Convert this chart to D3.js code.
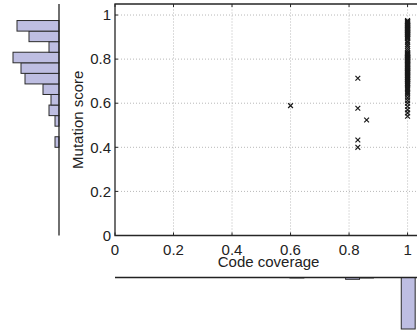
<!DOCTYPE html>
<html lang="en">
<head>
  <meta charset="utf-8">
  <title>Mutation score vs code coverage</title>
<style>
  body { margin: 0; background: #fff; }
  svg { display: block; font-family: "Liberation Sans", Arial, sans-serif; }
  .grid line { stroke: #b8b8b8; stroke-dasharray: 1,2; }
  .hist rect { fill: rgb(190,190,226); stroke: #2a2a2a; stroke-width: 1; }
  .lbl { fill: #222; font-size: 15px; }
</style>
<script src="https://d3js.org/d3.v7.min.js"></script>
</head>
<body>
<svg width="417" height="336"></svg>
<script>

// ticks
var tickValues = [0, 0.2, 0.4, 0.6, 0.8, 1];
var tickLabels = ["0", "0.2", "0.4", "0.6", "0.8", "1"];

// programs not fully covered
var partCoverage = [0.60, 0.83, 0.83, 0.86, 0.83, 0.83];
var partScore    = [0.589, 0.713, 0.577, 0.524, 0.433, 0.40];

// programs with full coverage (coverage = 1), mutation score of each
var fullScore = [
  0.975, 0.972, 0.970, 0.968, 0.966, 0.963, 0.960, 0.958, 0.955, 0.952, 0.950,
  0.948, 0.945, 0.943, 0.940, 0.938, 0.936, 0.934, 0.932, 0.930, 0.928,
  0.925, 0.922, 0.920, 0.917, 0.914, 0.912, 0.910, 0.907, 0.905, 0.902,
  0.900, 0.897, 0.895, 0.892, 0.881,
  0.875, 0.866, 0.858, 0.848, 0.838,
  0.830, 0.828, 0.826, 0.824, 0.822, 0.820, 0.818, 0.816, 0.814, 0.812,
  0.810, 0.808, 0.806, 0.804, 0.802, 0.800, 0.798, 0.796, 0.794, 0.792,
  0.790, 0.788, 0.785,
  0.781, 0.778, 0.776, 0.773, 0.771, 0.768, 0.766, 0.763, 0.761, 0.758,
  0.756, 0.753, 0.751, 0.748, 0.746, 0.743, 0.741, 0.739, 0.737,
  0.733, 0.730, 0.727, 0.724, 0.721, 0.718, 0.715, 0.712, 0.709, 0.706,
  0.703, 0.700, 0.697, 0.694, 0.691, 0.689,
  0.684, 0.679, 0.673, 0.667, 0.661, 0.655, 0.649, 0.643,
  0.636, 0.624, 0.612, 0.600,
  0.585, 0.570, 0.556,
  0.541
];

// histogram bin ranges
var scoreHistDomain = [0.40, 0.975];
var scoreBins = 12;
var covHistDomain = [0.598, 1.026];
var covBins = 9;

var svg = d3.select("svg");

var points = partCoverage.map(function(c, i) { return {x: c, y: partScore[i]}; })
    .concat(fullScore.map(function(s) { return {x: 1, y: s}; }));

var x = d3.scaleLinear().domain([0, 1.05]).range([115, 422.2]);
var y = d3.scaleLinear().domain([0, 1.05]).range([235.5, 4]);

// grid
var grid = svg.append("g").attr("class", "grid");
grid.selectAll(".gx").data(tickValues.slice(1)).enter().append("line")
    .attr("x1", function(d) { return x(d); }).attr("x2", function(d) { return x(d); })
    .attr("y1", y(0)).attr("y2", y(1.05));
grid.selectAll(".gy").data(tickValues.slice(1)).enter().append("line")
    .attr("y1", function(d) { return y(d); }).attr("y2", function(d) { return y(d); })
    .attr("x1", x(0)).attr("x2", x(1.05));

// scatter, x markers
var mk = svg.append("g").attr("stroke", "#1a1a1a").attr("stroke-width", 1.2);
points.forEach(function(p) {
    var cx = x(p.x), cy = y(p.y), r = 2.4;
    mk.append("path").attr("d", "M" + (cx - r) + "," + (cy - r) + "L" + (cx + r) + "," + (cy + r) +
        "M" + (cx - r) + "," + (cy + r) + "L" + (cx + r) + "," + (cy - r));
});

// axes box
var box = svg.append("g").attr("stroke", "#262626").attr("stroke-width", 1.3).attr("fill", "none");
box.append("path").attr("d", "M" + x(1.05) + "," + y(1.05) + "H" + x(0) + "V" + y(0) + "H" + x(1.05));
tickValues.forEach(function(t) {
    box.append("line").attr("x1", x(t)).attr("x2", x(t)).attr("y1", y(0)).attr("y2", y(0) - 3).attr("stroke-width", 1);
    box.append("line").attr("x1", x(t)).attr("x2", x(t)).attr("y1", y(1.05)).attr("y2", y(1.05) + 3).attr("stroke-width", 1);
    box.append("line").attr("y1", y(t)).attr("y2", y(t)).attr("x1", x(0)).attr("x2", x(0) + 3).attr("stroke-width", 1);
});

// tick labels
svg.selectAll(".xt").data(tickValues).enter().append("text")
    .attr("class", "lbl").attr("text-anchor", "middle")
    .attr("x", function(d) { return x(d); }).attr("y", 254.5)
    .text(function(d, i) { return tickLabels[i]; });
svg.selectAll(".yt").data(tickValues).enter().append("text")
    .attr("class", "lbl").attr("text-anchor", "end").attr("dy", "0.35em")
    .attr("x", 111).attr("y", function(d) { return y(d); })
    .text(function(d, i) { return tickLabels[i]; });

svg.append("text").attr("class", "lbl").attr("text-anchor", "middle")
    .attr("x", x(0.525)).attr("y", 267).text("Code coverage");
svg.append("text").attr("class", "lbl").attr("text-anchor", "middle")
    .attr("transform", "translate(83," + y(0.525) + ") rotate(-90)").text("Mutation score");

// left histogram: mutation score
var scoreBinner = d3.bin().domain(scoreHistDomain)
    .thresholds(d3.range(1, scoreBins).map(function(k) {
        return scoreHistDomain[0] + k * (scoreHistDomain[1] - scoreHistDomain[0]) / scoreBins;
    }));
var sBins = scoreBinner(points.map(function(p) { return p.y; }));
var hx = d3.scaleLinear().domain([0, 23]).range([59, 13]);

svg.append("g").attr("class", "hist").selectAll("rect")
    .data(sBins.filter(function(b) { return b.length > 0; })).enter().append("rect")
    .attr("x", function(b) { return hx(b.length); })
    .attr("width", function(b) { return hx(0) - hx(b.length); })
    .attr("y", function(b) { return y(b.x1); })
    .attr("height", function(b) { return y(b.x0) - y(b.x1); });
svg.append("line").attr("x1", hx(0)).attr("x2", hx(0)).attr("y1", y(1.05)).attr("y2", y(0))
    .attr("stroke", "#222").attr("stroke-width", 1.3);

// bottom histogram: coverage
var covBinner = d3.bin().domain(covHistDomain)
    .thresholds(d3.range(1, covBins).map(function(k) {
        return covHistDomain[0] + k * (covHistDomain[1] - covHistDomain[0]) / covBins;
    }));
var cBins = covBinner(points.map(function(p) { return p.x; }));
var hy = d3.scaleLinear().domain([0, 115]).range([277.5, 329]);

svg.append("g").attr("class", "hist").selectAll("rect")
    .data(cBins.filter(function(b) { return b.length > 0; })).enter().append("rect")
    .attr("x", function(b) { return x(b.x0); })
    .attr("width", function(b) { return x(b.x1) - x(b.x0); })
    .attr("y", hy(0))
    .attr("height", function(b) { return hy(b.length) - hy(0); });
svg.append("line").attr("x1", x(0)).attr("x2", x(1.05)).attr("y1", hy(0)).attr("y2", hy(0))
    .attr("stroke", "#222").attr("stroke-width", 1.3);

</script>
</body>
</html>
